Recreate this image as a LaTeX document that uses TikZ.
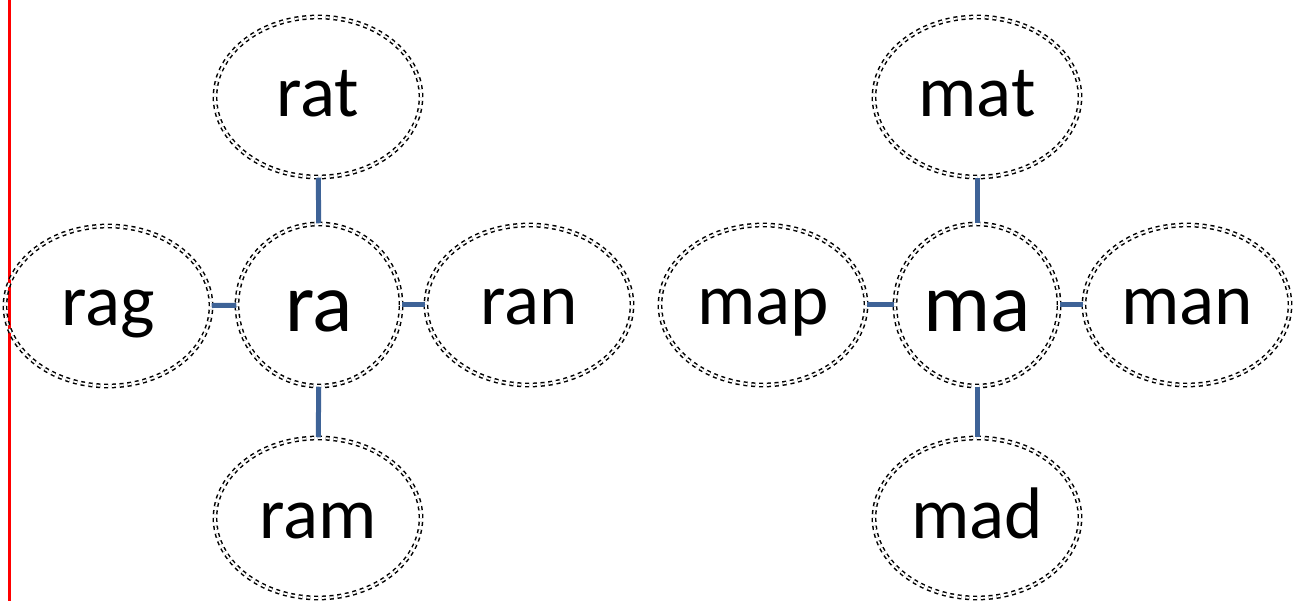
\documentclass[tikz,border=0pt]{standalone}
\usepackage{fontspec}
\setmainfont{Carlito}
\usetikzlibrary{shapes.geometric}
\definecolor{linkblue}{RGB}{62,99,151}
\tikzset{
  bub/.style={ellipse, draw=black, double=white, double distance=1.8pt, line width=1.5pt,
    dash pattern=on 4pt off 3.8pt, minimum width=206pt, minimum height=160pt, inner sep=0pt,
    text height=55pt, text depth=15pt,
    font=\fontsize{73}{75}\selectfont},
  hub/.style={bub, minimum width=164pt, minimum height=162pt, text height=62pt, text depth=10pt,
    font=\fontsize{84}{86}\selectfont},
  link/.style={draw=linkblue, line width=5pt}
}
\begin{document}
\begin{tikzpicture}[x=1pt,y=-1pt]
\useasboundingbox (0,0) rectangle (1295,601);
\draw[red, line width=3pt] (9,0) -- (9,601);
\node[hub] (ra) at (319,305) {ra};
\node[bub] (rat) at (318,97) {rat};
\node[bub] (rag) at (108,306) {rag};
\node[bub] (ran) at (529,305) {ran};
\node[bub] (ram) at (318,518) {ram};
\node[hub] (ma) at (977,305) {ma};
\node[bub] (mat) at (977,97) {mat};
\node[bub] (map) at (763,305) {map};
\node[bub] (man) at (1187,305) {man};
\node[bub] (mad) at (977,518) {mad};
\foreach \a/\b in {ra/rat,ra/rag,ra/ran,ra/ram,ma/mat,ma/map,ma/man,ma/mad}
  \draw[link] (\a) -- (\b);
\end{tikzpicture}
\end{document}
